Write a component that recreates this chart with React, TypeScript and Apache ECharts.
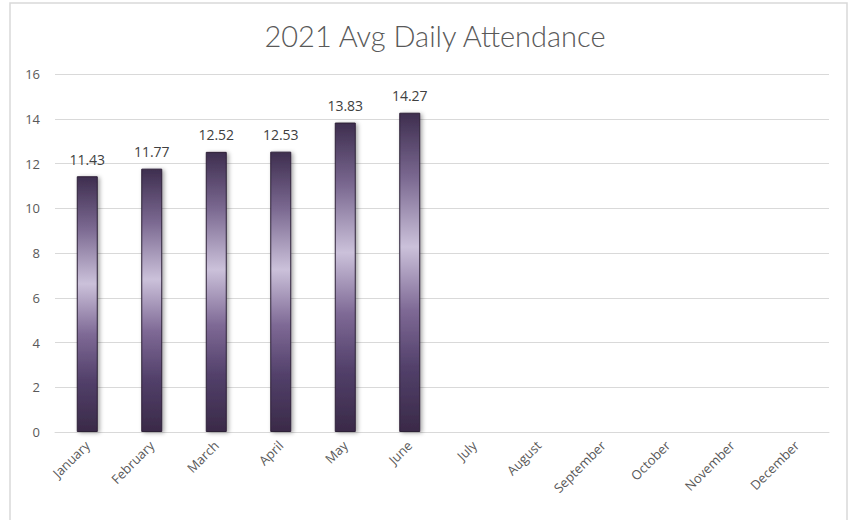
import React, { useEffect, useRef } from "react";
import * as echarts from "echarts";

const titleText = "2021 Avg Daily Attendance";
const months = ["January", "February", "March", "April", "May", "June", "July", "August", "September", "October", "November", "December"];
const attendance: (number | null)[] = [11.43, 11.77, 12.52, 12.53, 13.83, 14.27, null, null, null, null, null, null];

export default function App() {
  const ref = useRef<HTMLDivElement>(null);
  useEffect(() => {
    const chart = echarts.init(ref.current!, null, { renderer: "svg" });
    chart.setOption({
      animation: false,
      backgroundColor: "#ffffff",
      title: {
        text: titleText,
        left: 430,
        textAlign: "center",
        top: 16,
        textStyle: { fontFamily: "Lato", fontWeight: 300, fontSize: 29, color: "#595959" },
      },
      graphic: [
        {
          type: "rect",
          shape: { x: 10, y: 3, width: 837, height: 530 },
          style: { fill: "none", stroke: "#d9d9d9", lineWidth: 1.5 },
          silent: true,
        },
      ],
      grid: { left: 55, right: 21, top: 74, bottom: 88, containLabel: false },
      xAxis: {
        type: "category",
        data: months,
        axisLine: { show: true, lineStyle: { color: "#d9d9d9", width: 1 } },
        axisTick: { show: false },
        axisLabel: {
          rotate: 45,
          fontFamily: "Open Sans",
          fontSize: 13,
          color: "#595959",
          margin: 11,
          interval: 0,
        },
      },
      yAxis: {
        type: "value",
        min: 0,
        max: 16,
        interval: 2,
        axisLine: { show: false },
        axisTick: { show: false },
        splitLine: { lineStyle: { color: "#d9d9d9", width: 1 } },
        axisLabel: { fontFamily: "Open Sans", fontSize: 13, color: "#595959", margin: 15 },
      },
      series: [
        {
          type: "bar",
          data: attendance,
          barWidth: 21,
          itemStyle: {
            color: new echarts.graphic.LinearGradient(0, 0, 0, 1, [
              { offset: 0, color: "#3e2e4f" },
              { offset: 0.2, color: "#7a6890" },
              { offset: 0.42, color: "#cbc1da" },
              { offset: 0.62, color: "#7e6995" },
              { offset: 0.8, color: "#52406a" },
              { offset: 1, color: "#3a2a48" },
            ]),
            borderColor: "#2e2238",
            borderWidth: 1,
            shadowColor: "rgba(0,0,0,0.35)",
            shadowBlur: 4,
            shadowOffsetX: 2,
            shadowOffsetY: 1,
          },
          label: {
            show: true,
            position: "top",
            distance: 10,
            fontFamily: "Open Sans",
            fontSize: 14,
            color: "#404040",
            formatter: (p: any) => (p.value == null ? "" : p.value.toFixed(2)),
          },
        },
      ],
    });
    return () => chart.dispose();
  }, []);
  return <div ref={ref} style={{ width: 850, height: 520, position: "absolute", left: 0, top: 0 }} />;
}
